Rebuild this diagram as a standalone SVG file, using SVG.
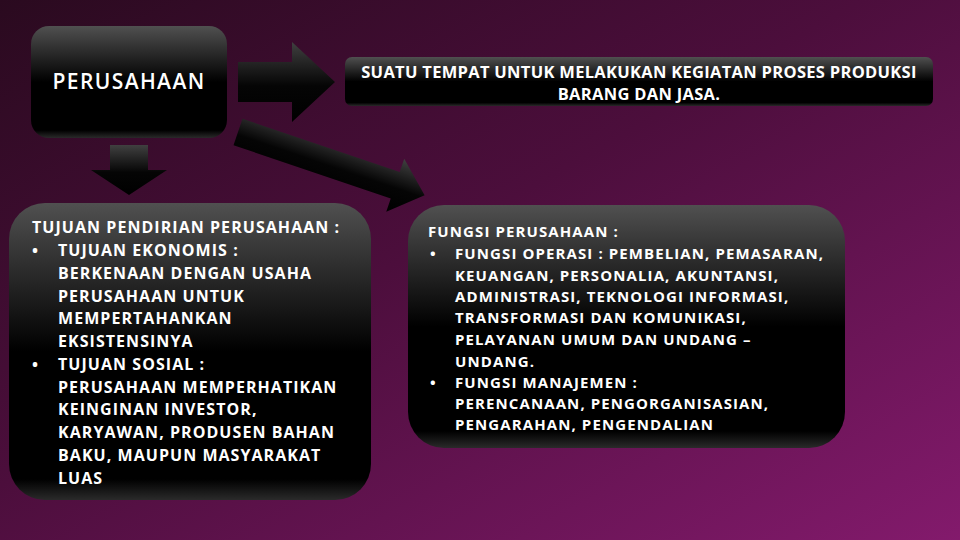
<svg xmlns="http://www.w3.org/2000/svg" width="960" height="540" viewBox="0 0 960 540">
<defs>
<linearGradient id="bg" x1="0" y1="0" x2="1" y2="1">
<stop offset="0" stop-color="#2a0a1f"/>
<stop offset="0.45" stop-color="#4c0e3c"/>
<stop offset="1" stop-color="#831a6c"/>
</linearGradient>
<linearGradient id="boxg" x1="0" y1="0" x2="0" y2="1">
<stop offset="0" stop-color="#505050"/>
<stop offset="0.5" stop-color="#000"/>
<stop offset="0.93" stop-color="#000"/>
<stop offset="1" stop-color="#2a2a2a"/>
</linearGradient>
<linearGradient id="arrg" x1="0" y1="0" x2="0" y2="1">
<stop offset="0" stop-color="#404040"/>
<stop offset="0.55" stop-color="#050505"/>
<stop offset="1" stop-color="#000"/>
</linearGradient>
</defs>
<style>
.box{fill:url(#boxg)}
.arr{fill:url(#arrg)}
text{font-family:"Open Sans","Liberation Sans",sans-serif;fill:#fff;font-weight:bold}
.t1{font-size:21px;font-weight:600;letter-spacing:1.4px}
.t2{font-size:16.5px;letter-spacing:0.3px}
.t3{font-size:16px;letter-spacing:1.05px}
.t4{font-size:15px;letter-spacing:1.1px}
</style>
<rect width="960" height="540" fill="url(#bg)"/>

<g id="connectors">
<path class="arr" d="M238 62 H292 V42 L335 82 L292 122 V102 H238 Z"/>
<path class="arr" d="M110 145 H148 V170 H167 L129 195 L91 170 H110 Z"/>
<g transform="translate(238 132) rotate(18.7)">
<path class="arr" d="M0 -14 H166 V-28 L197 0 L166 28 V14 H0 Z"/>
</g>
</g>

<g id="node-perusahaan">
<rect class="box" x="31" y="26" width="196" height="112" rx="18"/>
<text class="t1" x="129" y="89" text-anchor="middle">PERUSAHAAN</text>
</g>

<g id="node-definisi">
<rect class="box" x="345" y="57" width="588" height="49" rx="7"/>
<text class="t2" x="639" y="78" text-anchor="middle">SUATU TEMPAT UNTUK MELAKUKAN KEGIATAN PROSES PRODUKSI</text>
<text class="t2" x="639" y="100" text-anchor="middle">BARANG DAN JASA.</text>
</g>

<g id="node-tujuan">
<rect class="box" x="9" y="203" width="362" height="297" rx="36"/>
<text class="t3" x="32" y="233">TUJUAN PENDIRIAN PERUSAHAAN :</text>
<text class="t3" x="32" y="256">•</text>
<text class="t3" x="58" y="256">TUJUAN EKONOMIS :</text>
<text class="t3" x="58" y="279">BERKENAAN DENGAN USAHA</text>
<text class="t3" x="58" y="302">PERUSAHAAN UNTUK</text>
<text class="t3" x="58" y="324">MEMPERTAHANKAN</text>
<text class="t3" x="58" y="347">EKSISTENSINYA</text>
<text class="t3" x="32" y="370">•</text>
<text class="t3" x="58" y="370">TUJUAN SOSIAL :</text>
<text class="t3" x="58" y="393">PERUSAHAAN MEMPERHATIKAN</text>
<text class="t3" x="58" y="415">KEINGINAN INVESTOR,</text>
<text class="t3" x="58" y="438">KARYAWAN, PRODUSEN BAHAN</text>
<text class="t3" x="58" y="461">BAKU, MAUPUN MASYARAKAT</text>
<text class="t3" x="58" y="484">LUAS</text>
</g>

<g id="node-fungsi">
<rect class="box" x="408" y="205" width="437" height="243" rx="36"/>
<text class="t4" x="428" y="237">FUNGSI PERUSAHAAN :</text>
<text class="t4" x="430" y="259">•</text>
<text class="t4" x="455" y="259">FUNGSI OPERASI : PEMBELIAN, PEMASARAN,</text>
<text class="t4" x="455" y="281">KEUANGAN, PERSONALIA, AKUNTANSI,</text>
<text class="t4" x="455" y="302">ADMINISTRASI, TEKNOLOGI INFORMASI,</text>
<text class="t4" x="455" y="323">TRANSFORMASI DAN KOMUNIKASI,</text>
<text class="t4" x="455" y="345">PELAYANAN UMUM DAN UNDANG –</text>
<text class="t4" x="455" y="367">UNDANG.</text>
<text class="t4" x="430" y="388">•</text>
<text class="t4" x="455" y="388">FUNGSI MANAJEMEN :</text>
<text class="t4" x="455" y="409">PERENCANAAN, PENGORGANISASIAN,</text>
<text class="t4" x="455" y="430">PENGARAHAN, PENGENDALIAN</text>
</g>
</svg>
